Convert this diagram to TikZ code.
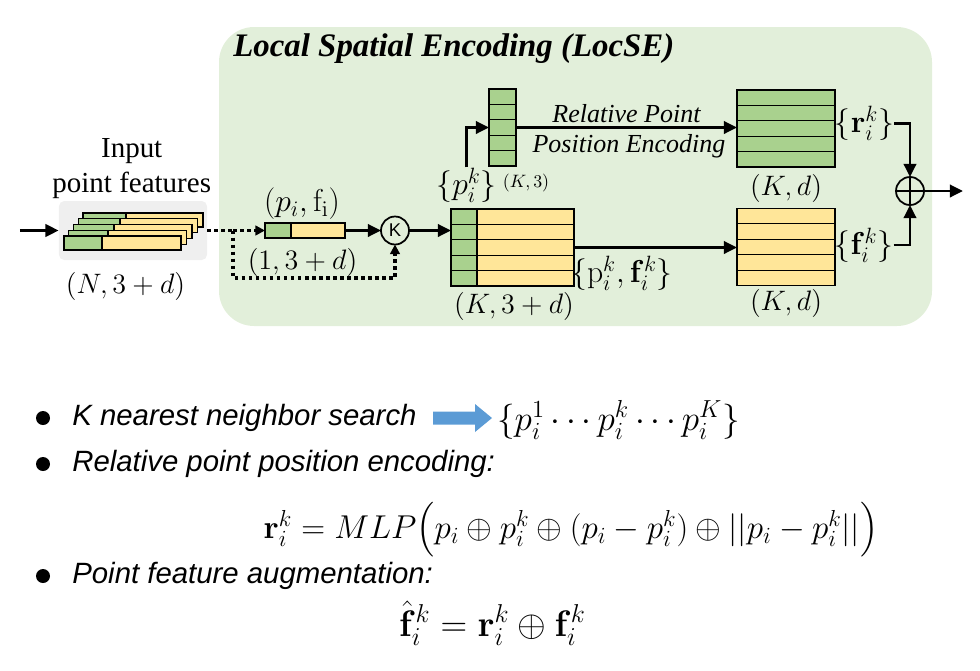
\RequirePackage{fix-cm}
\documentclass[tikz,border=0pt]{standalone}
\usepackage{amsmath}
\usepackage[no-math]{fontspec}
\setmainfont{Liberation Serif}
\setsansfont{Liberation Sans}
\usetikzlibrary{calc,arrows.meta,positioning}

\definecolor{panelgreen}{RGB}{226,239,218}
\definecolor{cellgreen}{RGB}{169,209,142}
\definecolor{cellyellow}{RGB}{255,230,153}
\definecolor{boxgray}{RGB}{239,239,239}
\definecolor{arrowblue}{RGB}{91,155,213}

\tikzset{
  matline/.style={draw=black, line width=0.6pt},
  mat/.style={inner sep=0pt, outer sep=0pt},
  flow/.style={line width=1.7pt, -{Triangle[length=7.5pt,width=7pt]}},
  dotline/.style={line width=2pt, dash pattern=on 2pt off 2pt},
  dotflow/.style={dotline, -{Triangle[length=5.5pt,width=5.5pt]}},
  lbl/.style={inner sep=0pt, font=\fontsize{16}{18}\selectfont},
  setlbl/.style={inner sep=0pt, font=\fontsize{18}{20}\selectfont},
  smalllbl/.style={inner sep=0pt, font=\fontsize{10.2}{12}\selectfont},
  txt/.style={inner sep=0pt, font=\fontsize{16.5}{19}\selectfont},
  slanttxt/.style={inner sep=0pt, font=\fontsize{14.8}{17}\selectfont\itshape},
  titletext/.style={inner sep=0pt, font=\fontsize{18.7}{22}\selectfont\bfseries\itshape},
  bullettxt/.style={inner sep=0pt, font=\fontsize{16.7}{19}\selectfont\sffamily\itshape},
  ring/.style={draw, circle, line width=1pt, inner sep=0pt, outer sep=0pt, minimum size=5.6mm}
}

% border and row lines of a 5-row block
\newcommand{\rowgrid}[1]{%
  \foreach \k in {1,...,4}
    \draw[matline] ($(#1.north west)!\k/5!(#1.south west)$) -- ($(#1.north east)!\k/5!(#1.south east)$);
  \draw[matline] (#1.north west) rectangle (#1.south east);
}

\begin{document}
\begin{tikzpicture}[scale=0.2]
  \useasboundingbox (0,0) rectangle (98,-67);

  % LocSE panel
  \fill[panelgreen, rounded corners=20pt] (21.9,-2.7) rectangle (93.2,-32.6);
  \node[titletext, anchor=base west] (title) at (23.3,-5.67) {Local Spatial Encoding (LocSE)};

  % input point features
  \node[txt, anchor=base] (inname) at (13.17,-15.7) {Input};
  \node[txt, anchor=base] (infeat) at (13.17,-19.27) {point features};
  \node[fill=boxgray, rounded corners=3pt, minimum width=29.6mm, minimum height=11.8mm, inner sep=0pt] (inbox) at (13.3,-23.05) {};
  \foreach \i in {4,...,0} {
    \filldraw[matline, fill=cellyellow] (6.4+0.475*\i,-23.6+0.575*\i) rectangle (18.1+0.55*\i,-25.0+0.575*\i);
    \filldraw[matline, fill=cellgreen] (6.4+0.475*\i,-23.6+0.575*\i) rectangle (10.2+0.6*\i,-25.0+0.575*\i);
  }
  \node[lbl] (nshape) at (12.55,-28.6) {$(N,3+d)$};
  \coordinate (feed) at (2.0,-23.05);
  \draw[flow] (feed) -- (inbox.west);

  % one point
  \node[mat, fill=cellyellow, minimum width=16mm, minimum height=3mm] (pbar) at (30.5,-23.05) {};
  \fill[cellgreen] (pbar.north west) rectangle ($(pbar.south west)+(2.6,0)$);
  \draw[matline] (pbar.north west) rectangle (pbar.south east);
  \draw[matline] ($(pbar.north west)+(2.6,0)$) -- ($(pbar.south west)+(2.6,0)$);
  \node[setlbl] (pflabel) at (30.2,-20.35) {$(p_i,\mathrm{f}_\mathrm{i})$};
  \node[lbl] (oneshape) at (30.25,-26.25) {$(1,3+d)$};

  % knn
  \node[ring, font=\fontsize{10.5}{12}\selectfont\sffamily] (knn) at (39.5,-23.05) {K};
  \coordinate (split) at (23.3,-23.05);
  \coordinate (loop) at (23.3,-27.8);
  \draw[dotline] (inbox.east) -- (split);
  \draw[dotflow] (split) -- (pbar.west);
  \draw[dotflow] (split) -- (loop) -| (knn.south);
  \draw[flow] (pbar.east) -- (knn.west);

  % neighbours
  \node[mat, fill=cellyellow, minimum width=24.6mm, minimum height=15.4mm] (kmat) at (51.25,-24.75) {};
  \fill[cellgreen] (kmat.north west) rectangle ($(kmat.south west)+(2.6,0)$);
  \rowgrid{kmat}
  \draw[matline] ($(kmat.north west)+(2.6,0)$) -- ($(kmat.south west)+(2.6,0)$);
  \draw[flow] (knn) -- (knn -| kmat.west);
  \node[lbl] (kshape) at (51.4,-30.6) {$(K,3+d)$};
  \node[setlbl] (pfset) at (62.2,-27.3) {$\{\mathrm{p}_i^k,\mathbf{f}_i^k\}$};

  % neighbour positions
  \node[mat, fill=cellgreen, minimum width=5.4mm, minimum height=15.4mm] (pcol) at (50.25,-12.75) {};
  \rowgrid{pcol}
  \node[setlbl] (pset) at (46.65,-18.5) {$\{p_i^k\}$};
  \node[smalllbl] (pshape) at (52.6,-18.35) {$(K,3)$};
  \draw[flow] (pset.north) |- (pcol.west);

  % outputs
  \node[mat, fill=cellgreen, minimum width=19.6mm, minimum height=15.4mm] (rmat) at (78.6,-12.85) {};
  \rowgrid{rmat}
  \node[mat, fill=cellyellow, minimum width=19.6mm, minimum height=15.4mm] (fmat) at (78.6,-24.7) {};
  \rowgrid{fmat}
  \node[lbl] (rshape) at (78.6,-18.8) {$(K,d)$};
  \node[lbl] (fshape) at (78.6,-30.3) {$(K,d)$};
  \draw[flow] (pcol) -- (pcol -| rmat.west);
  \node[slanttxt, anchor=base] (rpe1) at (62.65,-12.25) {Relative Point};
  \node[slanttxt, anchor=base] (rpe2) at (62.9,-15.2) {Position Encoding};
  \draw[flow] (kmat) -- (kmat -| fmat.west);
  \node[setlbl] (rset) at (86.45,-12.35) {$\{\mathbf{r}_i^k\}$};
  \node[setlbl] (fset) at (86.4,-24.5) {$\{\mathbf{f}_i^k\}$};

  % concatenation
  \node[ring] (cat) at (91.0,-19.1) {};
  \draw[line width=1pt] (cat.north) -- (cat.south) (cat.west) -- (cat.east);
  \draw[flow] (rset.east) -| (cat.north);
  \draw[flow] (fset.east) -| (cat.south);
  \coordinate (out) at (96.3,-19.1);
  \draw[flow] (cat.east) -- (out);

  % notes
  \fill (4.3,-41.8) circle (0.7);
  \fill (4.3,-46.4) circle (0.7);
  \fill (4.3,-57.6) circle (0.7);
  \node[bullettxt, anchor=base west] (knote) at (7.2,-42.5) {K nearest neighbor search};
  \fill[arrowblue] (43.3,-41.15) -- (47.5,-41.15) -- (47.5,-40.4) -- (49.2,-41.8) -- (47.5,-43.2) -- (47.5,-42.45) -- (43.3,-42.45) -- cycle;
  \node[inner sep=0pt, font=\fontsize{20}{24}\selectfont] (kset) at (61.85,-42.0) {$\{p_i^1\cdots p_i^k\cdots p_i^K\}$};
  \node[bullettxt, anchor=base west] (rnote) at (7.2,-47.1) {Relative point position encoding:};
  \node[inner sep=0pt, font=\fontsize{18.8}{22}\selectfont] (reqn) at (57.1,-53.0) {$\mathbf{r}_i^k = MLP\Big(p_i\oplus p_i^k\oplus(p_i-p_i^k)\oplus||p_i-p_i^k||\Big)$};
  \node[bullettxt, anchor=base west] (fnote) at (7.2,-58.3) {Point feature augmentation:};
  \node[inner sep=0pt, font=\fontsize{21}{25}\selectfont] (feqn) at (49.25,-62.3) {$\hat{\mathbf{f}}_i^k = \mathbf{r}_i^k\oplus\mathbf{f}_i^k$};
\end{tikzpicture}
\end{document}
